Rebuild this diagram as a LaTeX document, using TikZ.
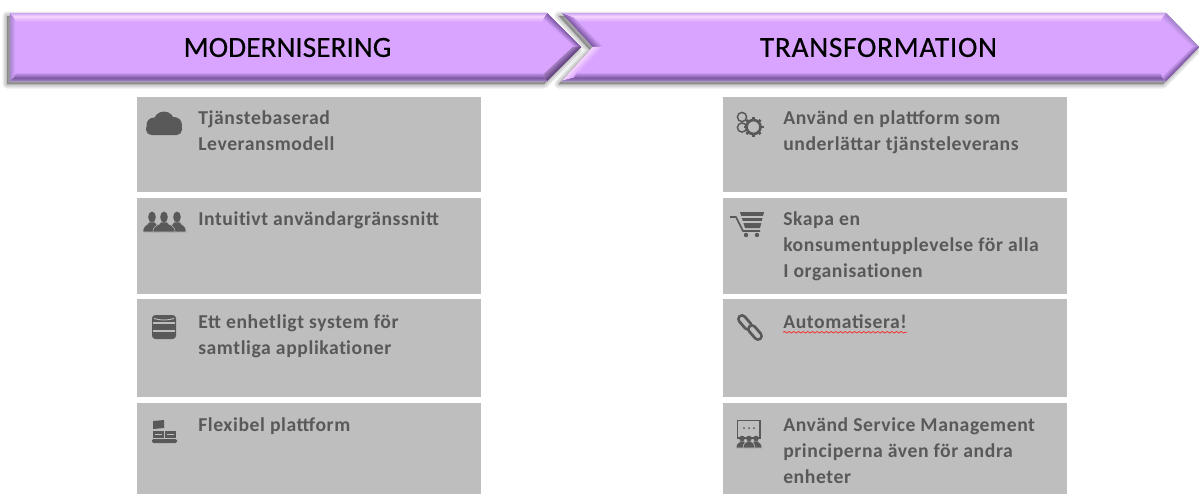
\documentclass[tikz,border=0pt]{standalone}
\usepackage{fontspec}
\setmainfont{Carlito}
\newfontfamily\itemfamily[LetterSpace=3.0]{Carlito}
\newfontfamily\titlefamily[FakeBold=0.35]{Carlito}
\newfontfamily\titlewidefamily[FakeBold=0.35,LetterSpace=2.4]{Carlito}
\usetikzlibrary{calc,decorations.pathmorphing}
\definecolor{mainp}{HTML}{D8A4FF}
\definecolor{pinkp}{HTML}{F6D4FF}
\definecolor{edgep}{HTML}{C6A0F0}
\definecolor{darkp}{HTML}{7F5AA6}
\definecolor{midp}{HTML}{A484CC}
\definecolor{cardg}{HTML}{BEBEBE}
\definecolor{inkg}{HTML}{595959}
\tikzset{
  card/.style={fill=cardg,draw=none},
  itemtext/.style={anchor=north west,inner sep=0pt,align=left,text=inkg,
    font=\itemfamily\bfseries\fontsize{14.75}{19.5}\selectfont},
  title/.style={inner sep=0pt,text=black,font=\fontsize{22}{26}\selectfont},
  ink/.style={fill=inkg,draw=none},
  inkline/.style={draw=inkg,fill=none},
  gapline/.style={draw=cardg,fill=none},
  shadowlayer/.style={draw=black,fill=black,line join=round,draw opacity=.08,fill opacity=.08}
}
\newcommand{\lineone}{\rule{0pt}{12pt}}
\newcommand{\nolig}{{\kern0pt}}
% facet: outer edge A-B, inner edge B'-A', outer colour, inner colour
\newcommand{\facet}[6]{%
  \foreach \k in {0,...,7}{%
    \pgfmathsetmacro\ta{\k/8}%
    \pgfmathsetmacro\tb{(\k+1)/8}%
    \pgfmathtruncatemacro\pc{100*\k/7}%
    \path[fill=#6!\pc!#5,draw=#6!\pc!#5,line width=.25pt]
      ($(#1)!\ta!(#4)$) -- ($(#2)!\ta!(#3)$) -- ($(#2)!\tb!(#3)$) -- ($(#1)!\tb!(#4)$) -- cycle;
  }%
}
\begin{document}
\begin{tikzpicture}[x=0.75pt,y=-0.75pt]
\useasboundingbox (0,0) rectangle (1199,494);

% ---------- arrow 2 ----------
\foreach \w in {9,6,3,1}{
  \path[shadowlayer,line width=\w*0.75pt] (559,16) -- (1163,16) -- (1196,50) -- (1163,84) -- (559,84) -- (590,50) -- cycle;
}
\fill[mainp] (562,13) -- (1166,13) -- (1199,47) -- (1166,81) -- (562,81) -- (593,47) -- cycle;
\facet{1166,13}{1199,47}{1191,47}{1162,20}{midp}{mainp}
\facet{1199,47}{1166,81}{1162,75}{1191,47}{darkp}{mainp}
\facet{562,13}{593,47}{605,47}{578,20}{darkp}{mainp}
\facet{593,47}{562,81}{578,75}{605,47}{pinkp}{mainp}
\facet{562,13}{1166,13}{1162,17}{574,17}{edgep}{pinkp}
\facet{574,17}{1162,17}{1160,23}{581,23}{pinkp}{mainp}
\facet{1166,81}{562,81}{574,78}{1162,78}{midp}{darkp}
\facet{1162,78}{574,78}{578,72}{1160,72}{darkp}{mainp}

% ---------- arrow 1 ----------
\foreach \w in {9,6,3,1}{
  \path[shadowlayer,line width=\w*0.75pt] (7,16) -- (544,16) -- (578,50) -- (544,84) -- (7,84) -- cycle;
}
\fill[mainp] (10,13) -- (547,13) -- (581,47) -- (547,81) -- (10,81) -- cycle;
\facet{547,13}{581,47}{573,47}{543,20}{darkp}{mainp}
\facet{581,47}{547,81}{543,75}{573,47}{darkp!75!black}{mainp}
\facet{10,13}{10,81}{16,75}{16,20}{midp}{mainp}
\facet{10,13}{547,13}{544,17}{14,17}{edgep}{pinkp}
\facet{14,17}{544,17}{541,23}{17,23}{pinkp}{mainp}
\facet{547,81}{10,81}{14,78}{544,78}{midp}{darkp}
\facet{544,78}{14,78}{17,72}{541,72}{darkp}{mainp}

\node[title] (tm) at (287.5,47.5) {\titlefamily MODERNISERING};
\node[title] (tt) at (878.5,47.5) {\titlewidefamily TRANSFORMATION};

% ---------- cards ----------
\fill[card] (137,97) rectangle (481,192);
\fill[card] (137,198) rectangle (481,294);
\fill[card] (137,299) rectangle (481,397);
\fill[card] (137,403) rectangle (481,494);
\fill[card] (723,97) rectangle (1067,192);
\fill[card] (723,198) rectangle (1067,294);
\fill[card] (723,299) rectangle (1067,397);
\fill[card] (723,403) rectangle (1067,494);

% ---------- texts ----------
\node[itemtext] (a1) at (198,108) {\lineone Tjänstebaserad\\Leveransmodell};
\node[itemtext] (a2) at (198,209) {\lineone Intuit\nolig ivt användargränssnitt};
\node[itemtext] (a3) at (198,312) {\lineone Ett enhetligt system för\\samtliga applikat\nolig ioner};
\node[itemtext] (a4) at (198,415) {\lineone Flexibel plattform};
\node[itemtext] (b1) at (783,108) {\lineone Använd en plattform som\\underlättar tjänsteleverans};
\node[itemtext] (b2) at (783,209) {\lineone Skapa en\\konsumentupplevelse för alla\\I organisat\nolig ionen};
\node[itemtext] (b3) at (783,312) {\lineone Automatisera!};
\node[itemtext] (b4) at (783,415) {\lineone Använd Service Management\\principerna även för andra\\enheter};
\draw[red!75!cardg,line width=.55pt,decorate,decoration={snake,amplitude=.6pt,segment length=3.5pt}]
  ($(b3.base west)+(0,4)$) -- ($(b3.base east)+(0,4)$);

% ---------- cloud ----------
\fill[ink,rounded corners=4pt] (146,123) rectangle (182,135);
\fill[ink] (164,122) circle (10.5);
\fill[ink] (154,125) circle (7.5);
\fill[ink] (174,125) circle (8);

% ---------- people ----------
\foreach \hx/\wd in {152/9,177/9,164/11}{
  \path[ink,draw=cardg!110,line width=.4pt] (\hx-\wd,232) .. controls (\hx-\wd,224) and (\hx-4,226) .. (\hx-3,222)
     -- (\hx+3,222) .. controls (\hx+4,226) and (\hx+\wd,224) .. (\hx+\wd,232) -- cycle;
  \fill[ink] (\hx,217) ellipse (3.8 and 5.5);
}

% ---------- database ----------
\fill[ink,rounded corners=2.5pt] (152,315) rectangle (176,339);
\draw[gapline,line width=.9pt] (153,323) -- (175,323);
\draw[gapline,line width=.9pt] (153,331) -- (175,331);
\draw[gapline,line width=.7pt] (154,318.5) .. controls (160,320.5) and (168,320.5) .. (174,318.5);

% ---------- platform ----------
\fill[ink] (153,421) -- (164,420) -- (164,428) -- (153,429) -- cycle;
\fill[ink] (153,431) rectangle (164,438);
\fill[ink] (165,431) rectangle (176,438);
\fill[ink,rounded corners=1pt] (152,439) rectangle (177,443);
\draw[gapline,line width=.5pt] (155,434) -- (162,434) (167,434) -- (174,434);

% ---------- gears ----------
\draw[inkline,line width=1.1pt] (742,117) circle (4.6);
\draw[inkline,line width=1.1pt] (742,127.5) circle (4.6);
\foreach \a in {0,45,...,315}{
  \draw[inkline,line width=2pt] ($(753.5,127)+(\a:7)$) -- ($(753.5,127)+(\a:10)$);
}
\draw[inkline,line width=2pt] (753.5,127) circle (7);

% ---------- cart ----------
\draw[inkline,line width=1.3pt,line join=round] (730,217) -- (736,217) -- (743,231) -- (760,231);
\fill[ink] (740,212) -- (764,212) -- (760,228) -- (745,228) -- cycle;
\draw[gapline,line width=1pt] (741,217) -- (763,217) (742,222) -- (762,222);
\fill[ink] (746,235) circle (2.2);
\fill[ink] (757,235) circle (2.2);

% ---------- chain ----------
\draw[inkg,line width=7.5pt,line cap=round] (742,319) -- (748,326);
\draw[cardg,line width=3.2pt,line cap=round] (742,319) -- (748,326);
\draw[inkg,line width=7.5pt,line cap=round] (752,329) -- (758,336);
\draw[cardg,line width=3.2pt,line cap=round] (752,329) -- (758,336);

% ---------- presentation ----------
\draw[inkline,line width=1pt] (737.5,420.5) rectangle (760,438);
\fill[ink] (744,428) circle (1) (749,428) circle (1) (754,428) circle (1);
\foreach \hx in {742,756,749}{
  \path[ink,draw=cardg,line width=.4pt] (\hx-6,448) .. controls (\hx-6,442) and (\hx-2,443) .. (\hx-2,441)
     -- (\hx+2,441) .. controls (\hx+2,443) and (\hx+6,442) .. (\hx+6,448) -- cycle;
  \fill[ink] (\hx,438.5) circle (2.8);
}
\end{tikzpicture}
\end{document}
